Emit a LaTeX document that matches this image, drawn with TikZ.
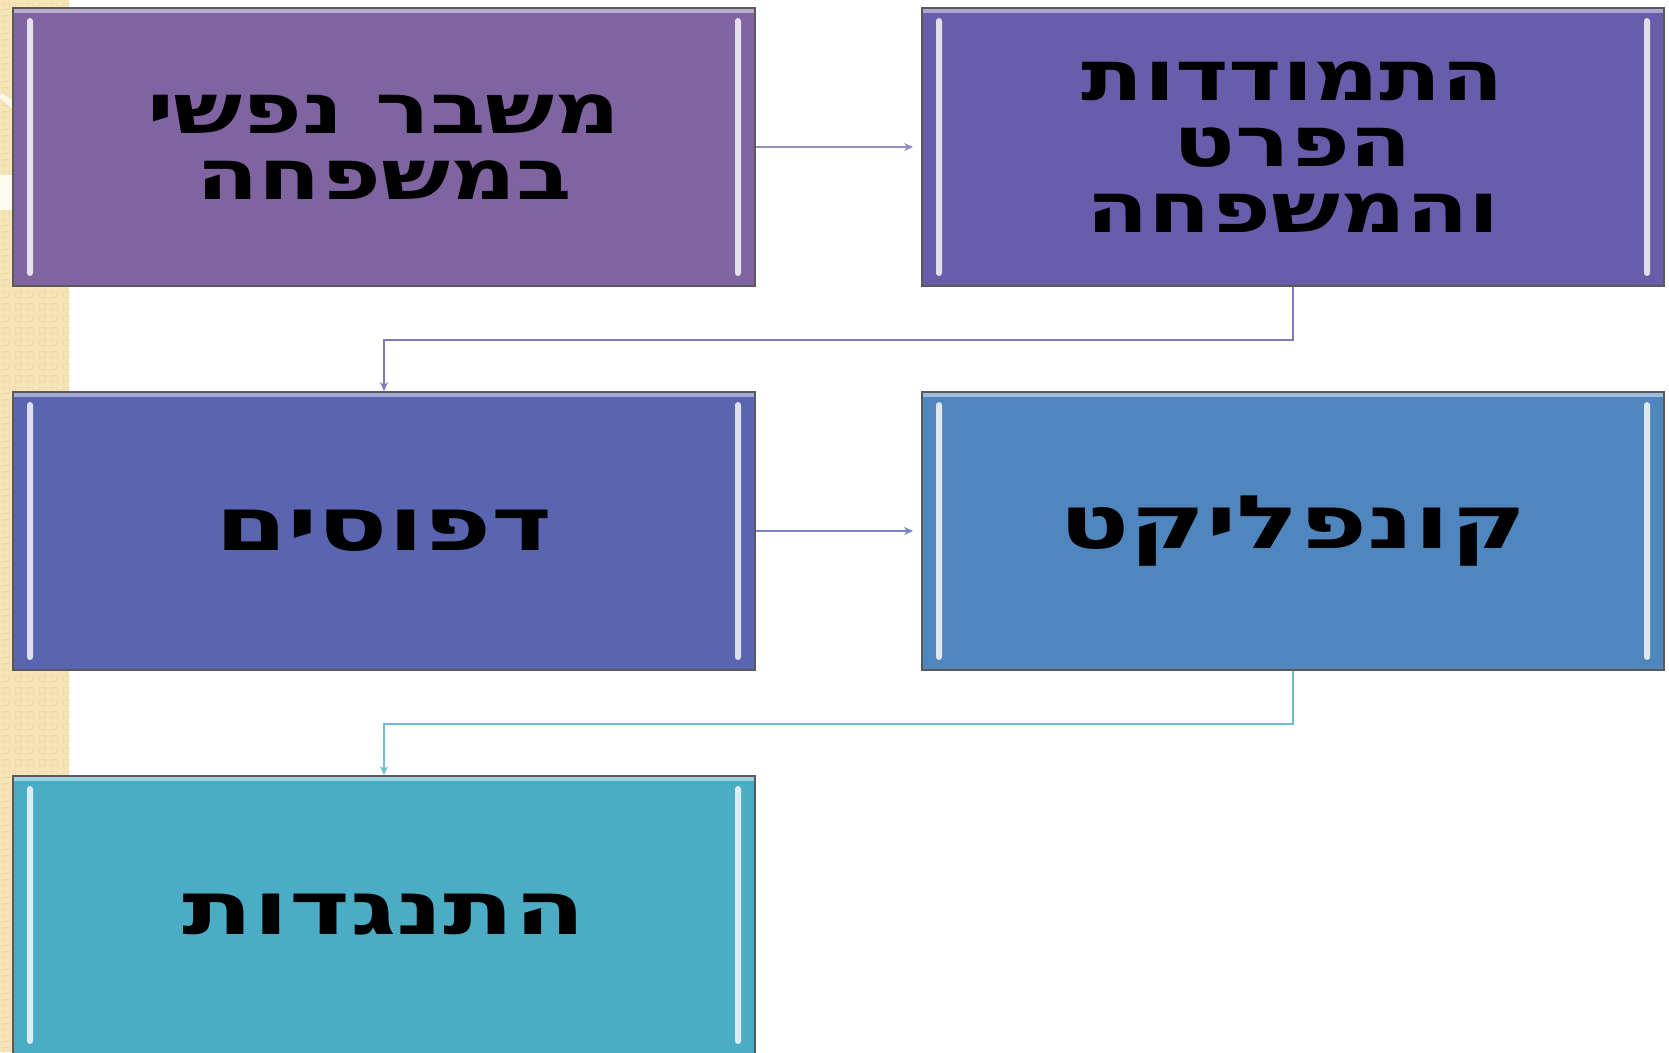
\documentclass[tikz,border=0pt]{standalone}
\usepackage{fontspec}
\TeXXeTstate=1
\newfontfamily\hebfont[Script=Hebrew,FakeStretch=1.30]{DejaVu Sans}
\newfontfamily\hebwide[Script=Hebrew,FakeStretch=1.40]{DejaVu Sans}
\usetikzlibrary{arrows.meta}

\definecolor{boxA}{HTML}{8064A2}
\definecolor{boxB}{HTML}{675DAB}
\definecolor{boxC}{HTML}{5965B0}
\definecolor{boxD}{HTML}{4F86BE}
\definecolor{boxE}{HTML}{4BACC6}
\definecolor{strip}{RGB}{247,228,182}
\definecolor{linkA}{RGB}{152,136,196}
\definecolor{linkB}{RGB}{128,120,188}
\definecolor{linkC}{RGB}{120,132,196}
\definecolor{linkD}{RGB}{112,188,208}

\tikzset{
  stage/.style={draw=black!65, line width=2pt, fill=#1,
    minimum width=742pt, minimum height=278pt, inner sep=0pt,
    align=center, font=\hebfont\bfseries\fontsize{70}{66}\selectfont,
    path picture={
      % bevel highlights
      \fill[#1!20!white, rounded corners=3pt]
        ([shift={(14pt,-10pt)}]path picture bounding box.north west) rectangle
        ([shift={(20pt,10pt)}]path picture bounding box.south west);
      \fill[#1!20!white, rounded corners=3pt]
        ([shift={(-20pt,-10pt)}]path picture bounding box.north east) rectangle
        ([shift={(-14pt,10pt)}]path picture bounding box.south east);
      \fill[#1!55!white]
        ([shift={(0pt,-1pt)}]path picture bounding box.north west) rectangle
        ([shift={(0pt,-5pt)}]path picture bounding box.north east);
    }},
  single/.style={font=\hebwide\bfseries\fontsize{74}{80}\selectfont},
  link/.style={line width=2pt, draw=#1, -{Stealth[length=9pt,width=8pt]}}
}

\begin{document}
\begin{tikzpicture}[x=1pt,y=1pt]
  \useasboundingbox (0,0) rectangle (1669,-1052);
  \clip (0,0) rectangle (1669,-1052);

  % slide background strip
  \fill[strip] (0,0) rectangle (69,-1052);
  \foreach \i in {0,...,5}
    \foreach \j in {0,...,88}
      \draw[strip!85!black, opacity=.25, line width=1pt] (\i*12+3,-\j*12-3) rectangle ++(6,-6);
  \draw[white, opacity=.7, line width=6pt] (0,-95) .. controls (20,-110) and (40,-130) .. (69,-150);
  \fill[white!80!strip] (0,-175) rectangle (69,-210);

  % stages
  \node[stage=boxA] (crisis) at (384,-147) {\beginR משבר נפשי\endR\\\beginR במשפחה\endR};
  \node[stage=boxB] (coping) at (1293,-147) {\beginR התמודדות\endR\\\beginR הפרט\endR\\\beginR והמשפחה\endR};
  \node[stage=boxC, single] (patterns) at (384,-531) {\beginR דפוסים\endR};
  \node[stage=boxD, single] (conflict) at (1293,-531) {\beginR קונפליקט\endR};
  \node[stage=boxE, single] (resist) at (384,-915) {\beginR התנגדות\endR};

  % connectors
  \draw[link=linkA] (crisis.east) -- ([xshift=-8pt]coping.west);
  \draw[link=linkB] (coping.south) -- ++(0,-53) -| (patterns.north);
  \draw[link=linkC] (patterns.east) -- ([xshift=-8pt]conflict.west);
  \draw[link=linkD] (conflict.south) -- ++(0,-53) -| (resist.north);
\end{tikzpicture}
\end{document}
